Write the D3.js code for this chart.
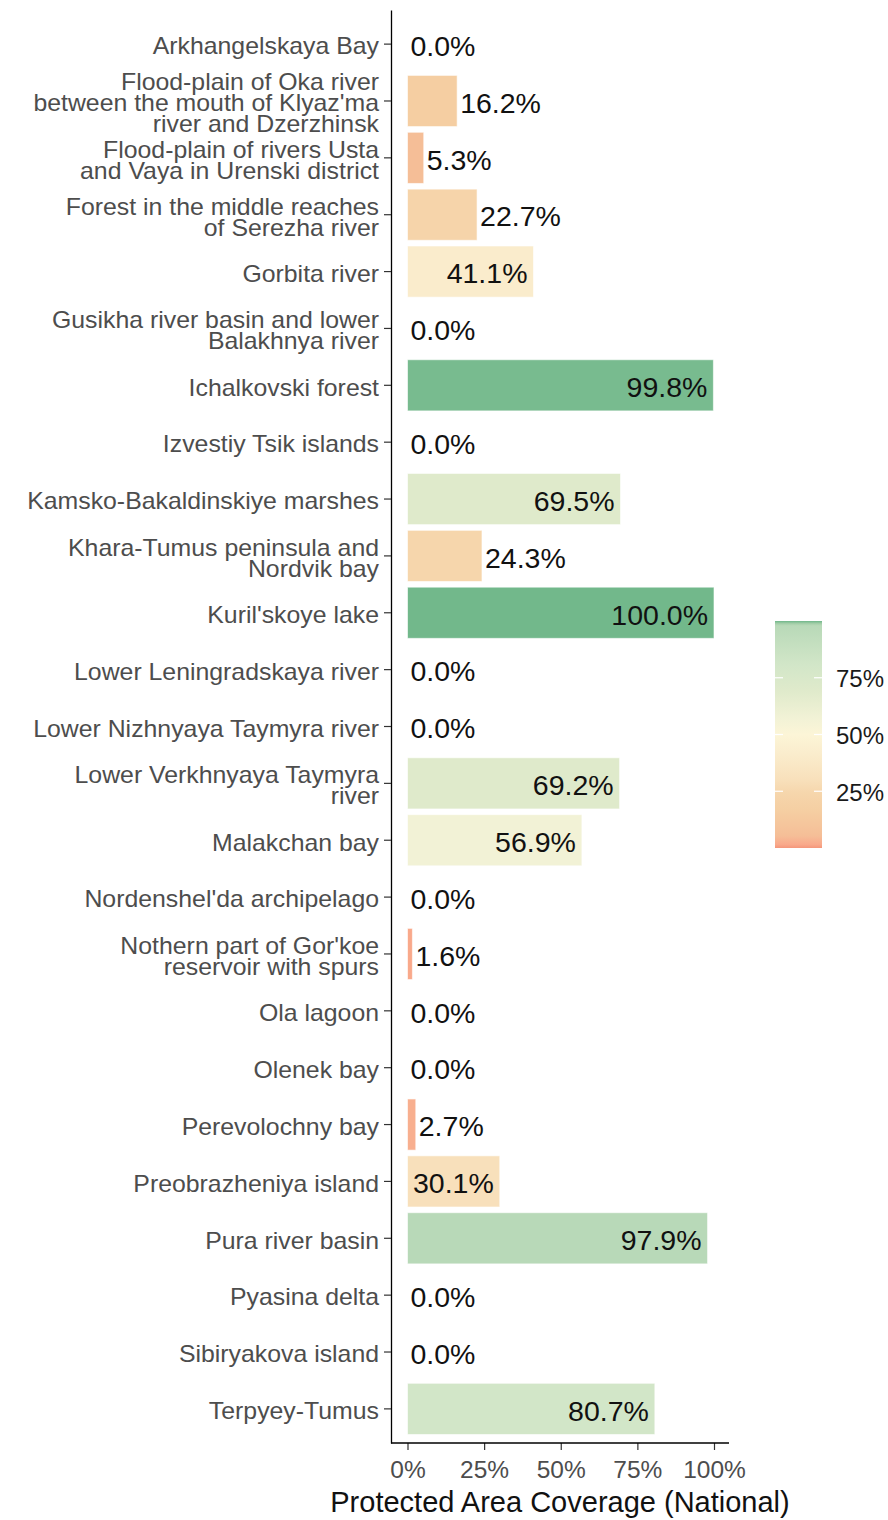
<!DOCTYPE html>
<html>
<head>
<meta charset="utf-8">
<script src="https://cdn.jsdelivr.net/npm/d3@7"></script>
<style>
  html, body { margin: 0; padding: 0; background: #fff; }
  svg { display: block; font-family: "Liberation Sans", Arial, sans-serif; }
</style>
</head>
<body>
<svg id="chart" width="888" height="1520"></svg>
<script>
// Wetland sites, in plotting order (top to bottom); "\n" marks a line break in the label
const categories = [
  "Arkhangelskaya Bay",
  "Flood-plain of Oka river\nbetween the mouth of Klyaz'ma\nriver and Dzerzhinsk",
  "Flood-plain of rivers Usta\nand Vaya in Urenski district",
  "Forest in the middle reaches\nof Serezha river",
  "Gorbita river",
  "Gusikha river basin and lower\nBalakhnya river",
  "Ichalkovski forest",
  "Izvestiy Tsik islands",
  "Kamsko-Bakaldinskiye marshes",
  "Khara-Tumus peninsula and\nNordvik bay",
  "Kuril'skoye lake",
  "Lower Leningradskaya river",
  "Lower Nizhnyaya Taymyra river",
  "Lower Verkhnyaya Taymyra\nriver",
  "Malakchan bay",
  "Nordenshel'da archipelago",
  "Nothern part of Gor'koe\nreservoir with spurs",
  "Ola lagoon",
  "Olenek bay",
  "Perevolochny bay",
  "Preobrazheniya island",
  "Pura river basin",
  "Pyasina delta",
  "Sibiryakova island",
  "Terpyey-Tumus"
];

// Share of each site covered by national protected areas (%)
const coverage = [
  0.0, 16.2, 5.3, 22.7, 41.1, 0.0, 99.8, 0.0, 69.5, 24.3,
  100.0, 0.0, 0.0, 69.2, 56.9, 0.0, 1.6, 0.0, 0.0, 2.7,
  30.1, 97.9, 0.0, 0.0, 80.7
];

const xTicks = [0, 25, 50, 75, 100];
const legendTicks = [25, 50, 75];

// Fill ramp: salmon -> cream -> green
const colourStops  = [0, 1.6, 5.3, 16.2, 24.3, 30.1, 41.1, 50, 56.9, 69.5, 80.7, 97.9, 98.8, 99.8, 100];
const colourValues = ["#F4967A", "#F9A98B", "#F5BE97", "#F5CEA2", "#F6D6AC", "#F8E0BB", "#FAECCC",
                      "#FCF5D7", "#F2F2D6", "#DFEACB", "#D2E6C8", "#B8D9B8", "#A6CFAA", "#78BB8F", "#72B88B"];

const data = categories.map((c, i) => ({ site: c, value: coverage[i] }));

const svg = d3.select("#chart");
const panel = { left: 391, right: 729, top: 10, bottom: 1443 };

const x = d3.scaleLinear().domain([0, 100]).range([407.5, 714]);
const y = d3.scaleBand()
  .domain(categories)
  .range([panel.top, panel.bottom])
  .paddingInner(0.1)
  .paddingOuter(0.15);

const fill = d3.scaleLinear().domain(colourStops).range(colourValues).clamp(true);

// Bars
svg.append("g")
  .selectAll("rect")
  .data(data)
  .join("rect")
  .attr("x", x(0))
  .attr("y", d => y(d.site))
  .attr("width", d => x(d.value) - x(0))
  .attr("height", y.bandwidth())
  .attr("fill", d => fill(d.value))
  .attr("stroke", d => d.value > 0 ? "rgba(255,255,255,0.6)" : "none")
  .attr("stroke-width", 1);

// Value labels: inside the bar end for larger values, just past it for small ones
const valueSize = 28.5;
svg.append("g")
  .selectAll("text")
  .data(data)
  .join("text")
  .attr("x", d => d.value > 25 ? x(d.value) - 6 : x(d.value) + 3)
  .attr("y", d => y(d.site) + y.bandwidth() / 2 + valueSize * 0.36 + 1.5)
  .attr("text-anchor", d => d.value > 25 ? "end" : "start")
  .attr("font-size", valueSize)
  .attr("fill", "#111")
  .text(d => d.value.toFixed(1) + "%");

// Y axis (labels are slightly widened glyphs, as rendered by the original device)
const tickSize = 23;
const widen = 1.08;
const yAxis = svg.append("g")
  .attr("transform", `translate(${panel.left},0)`)
  .call(d3.axisLeft(y).tickSize(7).tickSizeOuter(0).tickPadding(5));
yAxis.select(".domain").attr("stroke", "#000").attr("stroke-width", 1.3);
yAxis.selectAll(".tick line").attr("stroke", "#333").attr("stroke-width", 1.2);
yAxis.selectAll(".tick text")
  .attr("font-size", tickSize)
  .attr("fill", "#4D4D4D")
  .attr("font-family", "'Liberation Sans', Arial, sans-serif")
  .attr("transform", `scale(${widen},1)`)
  .attr("dy", null)
  .each(function (d) {
    const lines = d.split("\n");
    const lh = 21;
    const t = d3.select(this).text(null);
    lines.forEach((ln, k) => {
      t.append("tspan")
        .attr("x", -12 / widen)
        .attr("y", (k - (lines.length - 1) / 2) * lh + tickSize * 0.36 + 2)
        .text(ln);
    });
  });

// X axis
const xAxis = svg.append("g")
  .attr("transform", `translate(0,${panel.bottom})`)
  .call(d3.axisBottom(x).tickValues(xTicks).tickFormat(d => d + "%").tickSize(7).tickSizeOuter(0).tickPadding(11));
xAxis.select(".domain").remove();
xAxis.append("line")
  .attr("x1", panel.left).attr("x2", panel.right)
  .attr("stroke", "#000").attr("stroke-width", 1.3);
xAxis.selectAll(".tick line").attr("stroke", "#333").attr("stroke-width", 1.2);
xAxis.selectAll(".tick text")
  .attr("font-size", 24.5)
  .attr("fill", "#4D4D4D")
  .attr("font-family", "'Liberation Sans', Arial, sans-serif");

svg.append("text")
  .attr("x", (panel.left + panel.right) / 2)
  .attr("y", 1512)
  .attr("text-anchor", "middle")
  .attr("font-size", 29)
  .attr("fill", "#111")
  .text("Protected Area Coverage (National)");

// Colour bar legend
const legend = { left: 775, width: 47 };
const ly = d3.scaleLinear().domain([0, 100]).range([848, 621]);

const defs = svg.append("defs");
const grad = defs.append("linearGradient")
  .attr("id", "fillRamp")
  .attr("x1", 0).attr("x2", 0).attr("y1", 1).attr("y2", 0);
grad.selectAll("stop")
  .data(colourStops)
  .join("stop")
  .attr("offset", d => d / 100)
  .attr("stop-color", (d, i) => colourValues[i]);

const lg = svg.append("g");
lg.append("rect")
  .attr("x", legend.left)
  .attr("y", ly(100))
  .attr("width", legend.width)
  .attr("height", ly(0) - ly(100))
  .attr("fill", "url(#fillRamp)");

lg.selectAll("line.l")
  .data(legendTicks)
  .join("line")
  .attr("x1", legend.left).attr("x2", legend.left + 8)
  .attr("y1", d => ly(d)).attr("y2", d => ly(d))
  .attr("stroke", "#fff").attr("stroke-width", 1.2);
lg.selectAll("line.r")
  .data(legendTicks)
  .join("line")
  .attr("x1", legend.left + legend.width - 8).attr("x2", legend.left + legend.width)
  .attr("y1", d => ly(d)).attr("y2", d => ly(d))
  .attr("stroke", "#fff").attr("stroke-width", 1.2);
lg.selectAll("text")
  .data(legendTicks)
  .join("text")
  .attr("x", legend.left + legend.width + 14)
  .attr("y", d => ly(d) + 24 * 0.36 + 1)
  .attr("font-size", 24)
  .attr("fill", "#1a1a1a")
  .text(d => d + "%");
</script>
</body>
</html>
